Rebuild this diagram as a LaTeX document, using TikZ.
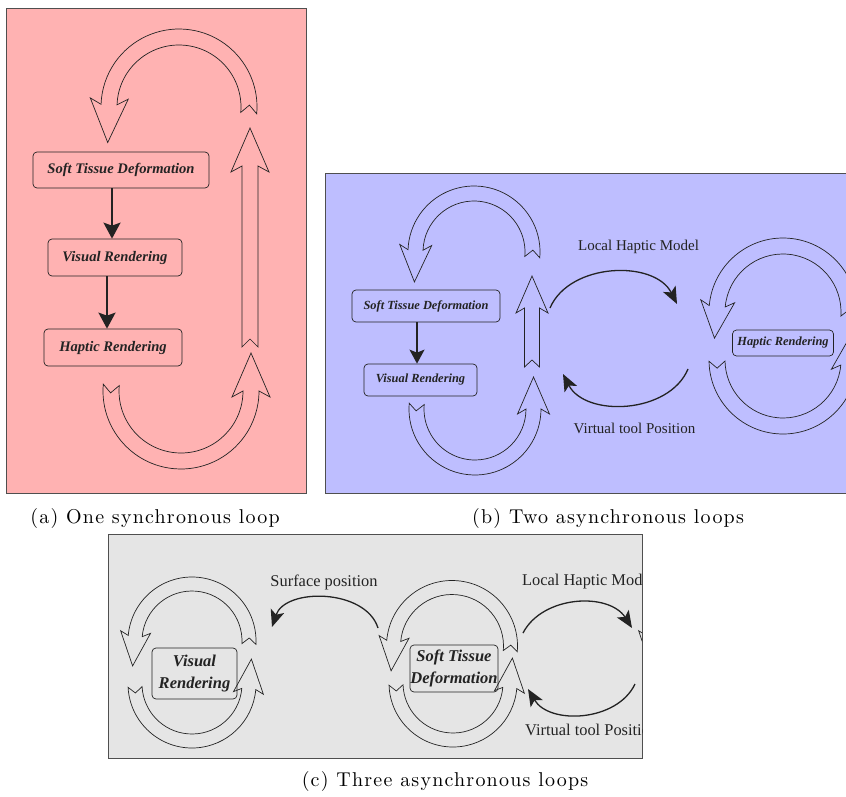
\documentclass[tikz,border=0pt]{standalone}
\usepackage{fontspec}
\newfontfamily\timesfont{Liberation Serif}
\newfontfamily\capfont{lmroman10-regular.otf}[LetterSpace=6]
\usetikzlibrary{arrows.meta,calc}

\definecolor{pinkbg}{RGB}{255,178,178}
\definecolor{bluebg}{RGB}{190,190,255}
\definecolor{graybg}{RGB}{229,229,229}
\definecolor{ink}{RGB}{35,35,35}

\tikzset{
  panel/.style={draw=ink!80, line width=0.8pt},
  hollow/.style={draw=ink, line width=0.7pt},
  proc/.style 2 args={draw=ink, rounded corners=4bp, inner sep=0pt, line width=0.7pt, text=ink,
    font=\timesfont\bfseries\itshape\fontsize{#1}{#2}\selectfont},
  flow/.style={draw=ink, line width=2pt, -{Stealth[length=16bp, width=17bp, inset=3bp]}},
  link/.style={draw=ink, line width=1.3pt, -{Stealth[length=17bp, width=14bp, inset=4bp]}},
  msg/.style={font=\timesfont\fontsize{#1}{#1}\selectfont, text=ink, inner sep=0pt},
  caption/.style={font=\capfont\fontsize{20bp}{22bp}\selectfont, inner sep=0pt},
}

% size of the hollow arrows: band, head half width, head length, sweep, notch
\newcommand{\setarrow}[5]{\def\bw{#1}\def\hw{#2}\def\hl{#3}\def\sw{#4}\def\nd{#5}}

% hollow arc arrow: centre, radius, tail angle, head angle
\newcommand{\hollowarc}[4]{%
  \pgfmathsetmacro\dir{sign(#4-#3)}%
  \pgfmathsetmacro\ta{#3+90*\dir}%
  \pgfmathsetmacro\tb{#4+90*\dir}%
  \pgfmathsetmacro\ro{#2+\bw}\pgfmathsetmacro\ri{#2-\bw}%
  \pgfmathsetmacro\rbo{#2+\hw}\pgfmathsetmacro\rbi{#2-\hw}%
  \draw[hollow] ($(#1)+(#3:\ro)$) arc[start angle=#3, end angle=#4, radius=\ro]
    -- ($(#1)+(#4:\rbo)-(\tb:\sw)$) -- ($(#1)+(#4:#2)+(\tb:\hl)$)
    -- ($(#1)+(#4:\rbi)-(\tb:\sw)$) -- ($(#1)+(#4:\ri)$)
    arc[start angle=#4, end angle=#3, radius=\ri]
    -- ($(#1)+(#3:#2)+(\ta:\nd)$) -- cycle;}

% straight hollow arrow pointing up: x, tail y, head y
\newcommand{\hollowup}[3]{%
  \draw[hollow] (#1-\bw,#2) -- (#1-\bw,#3) -- (#1-\hw,#3-\sw) -- (#1,#3+\hl)
    -- (#1+\hw,#3-\sw) -- (#1+\bw,#3) -- (#1+\bw,#2) -- (#1,#2+\nd) -- cycle;}

\begin{document}
\begin{tikzpicture}[x=1bp, y=1bp]
  \useasboundingbox (0,0) rectangle (846,-797);

  % (a) one synchronous loop
  \draw[panel, fill=pinkbg] (6,-8) rectangle (306,-493);
  \node[proc={14.6bp}{17bp}, minimum width=176bp, minimum height=36bp] (astd) at (121,-170) {Soft Tissue Deformation};
  \node[proc={14.6bp}{17bp}, minimum width=134bp, minimum height=37bp] (avr)  at (115,-257.5) {Visual Rendering};
  \node[proc={14.6bp}{17bp}, minimum width=138bp, minimum height=37bp] (ahr)  at (113,-347.5) {Haptic Rendering};
  \draw[flow] ([xshift=-9bp]astd.south) -- ([xshift=-9bp]astd.south |- avr.north);
  \draw[flow] ([xshift=-8bp]avr.south) -- ([xshift=-8bp]avr.south |- ahr.north);

  \setarrow{8}{19}{38}{6}{8}
  \coordinate (atop) at (179,-107);
  \coordinate (abot) at (181,-391);
  \hollowarc{atop}{70}{-5}{178}
  \hollowarc{abot}{70}{175}{360}
  \hollowup{250}{-347}{-166}

  \node[caption] (capa) at (155,-518) {(a) One synchronous loop};

  % (b) two asynchronous loops
  \draw[panel, fill=bluebg] (325,-173) rectangle (860,-493);
  \node[proc={12.4bp}{15bp}, minimum width=148bp, minimum height=32bp] (bstd) at (426,-306) {Soft Tissue Deformation};
  \node[proc={12.4bp}{15bp}, minimum width=113bp, minimum height=32bp] (bvr)  at (420.5,-380) {Visual Rendering};
  \node[proc={12.4bp}{15bp}, minimum width=101bp, minimum height=26bp] (bhr)  at (783,-343) {Haptic Rendering};
  \draw[flow, line width=1.8pt, -{Stealth[length=14bp, width=15bp, inset=3bp]}]
    ([xshift=-9bp]bstd.south) -- ([xshift=-9bp]bstd.south |- bvr.north);

  \setarrow{7.5}{16}{32}{5}{7}
  \coordinate (btl) at (474,-252);
  \coordinate (bbl) at (475,-409);
  \coordinate (btr) at (783,-312);
  \coordinate (bbr) at (783,-360);
  \hollowarc{btl}{58.5}{-5}{178}
  \hollowarc{bbl}{58.5}{175}{360}
  \hollowup{532}{-367}{-308}
  \setarrow{8}{17}{32}{5}{7}
  \hollowarc{btr}{66}{-4}{175}
  \hollowarc{bbr}{66}{181}{355}

  \coordinate (blhm-s) at (550,-308);
  \coordinate (blhm-e) at (677,-304);
  \coordinate (bvtp-s) at (688,-369);
  \coordinate (bvtp-e) at (563,-374);
  \draw[link] (blhm-s) to[bend left=65] (blhm-e);
  \draw[link] (bvtp-s) to[bend left=65] (bvtp-e);
  \node[msg=15bp] (blhm) at (638.5,-247) {Local Haptic Model};
  \node[msg=15bp] (bvtp) at (634.5,-428) {Virtual tool Position};

  \node[caption] (capb) at (608,-518) {(b) Two asynchronous loops};

  % (c) three asynchronous loops
  \draw[panel, fill=graybg] (108,-534) rectangle (642,-758);
  \begin{scope}
    \clip (108,-534) rectangle (642,-758);
    \node[proc={16.5bp}{22bp}, minimum width=85bp, minimum height=51bp, align=center] (cvr) at (194.5,-673.5) {Visual\\Rendering};
    \node[proc={16.5bp}{22bp}, minimum width=88bp, minimum height=47bp, align=center] (cstd) at (454,-668.5) {Soft Tissue\\Deformation};

    \setarrow{7}{15}{30}{4}{6}
    \coordinate (cvrtop) at (192,-641);
    \coordinate (cvrbot) at (192,-684);
    \coordinate (cstdtop) at (452,-646);
    \coordinate (cstdbot) at (453,-683);
    \coordinate (chrtop) at (710,-641);
    \hollowarc{cvrtop}{57}{-3}{175}
    \hollowarc{cvrbot}{57}{183}{355}
    \hollowarc{cstdtop}{58.5}{-5}{175}
    \hollowarc{cstdbot}{57}{182}{355}
    \hollowarc{chrtop}{57}{-5}{175}

    \coordinate (csp-s) at (378,-628);
    \coordinate (csp-e) at (272,-627);
    \coordinate (clhm-s) at (523,-633);
    \coordinate (clhm-e) at (632,-628);
    \coordinate (cvtp-s) at (635,-684);
    \coordinate (cvtp-e) at (528,-689);
    \draw[link] (csp-s) to[bend right=72] (csp-e);
    \draw[link] (clhm-s) to[bend left=60] (clhm-e);
    \draw[link] (cvtp-s) to[bend left=62] (cvtp-e);
    \node[msg=16.4bp] (csp) at (324,-582) {Surface position};
    \node[msg=16.4bp, anchor=west] (clhm) at (522,-582) {Local Haptic Model};
    \node[msg=16.4bp, anchor=west] (cvtp) at (525,-730) {Virtual tool Position};
  \end{scope}

  \node[caption] (capc) at (445,-781) {(c) Three asynchronous loops};
\end{tikzpicture}
\end{document}
